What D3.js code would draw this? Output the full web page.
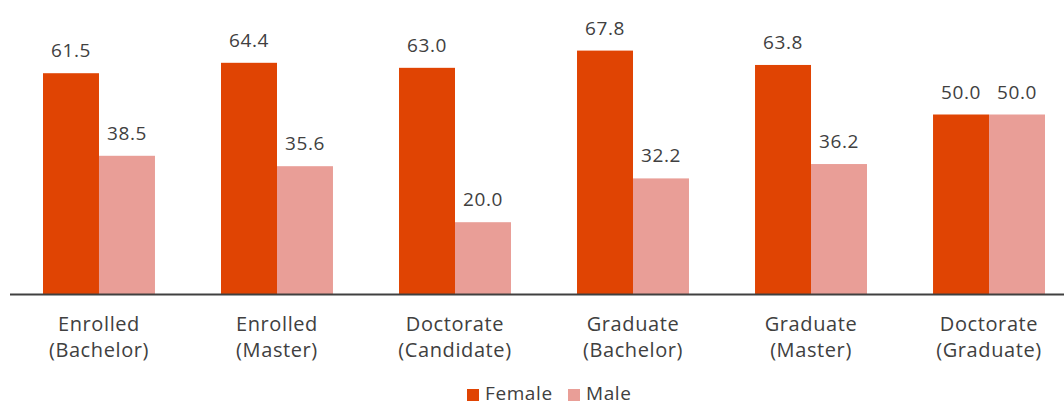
<!DOCTYPE html>
<html>
<head>
<meta charset="utf-8">
<script src="https://cdn.jsdelivr.net/npm/d3@7"></script>
<style>
  body { margin: 0; background: #fff; }
  text { font-family: "Open Sans", "Noto Sans", sans-serif; fill: #404040; }
</style>
</head>
<body>
<div id="chart"></div>
<script>
// data
const categories = ["Enrolled (Bachelor)", "Enrolled (Master)", "Doctorate (Candidate)",
                    "Graduate (Bachelor)", "Graduate (Master)", "Doctorate (Graduate)"];
const catLines = [["Enrolled", "(Bachelor)"], ["Enrolled", "(Master)"], ["Doctorate", "(Candidate)"],
                  ["Graduate", "(Bachelor)"], ["Graduate", "(Master)"], ["Doctorate", "(Graduate)"]];
const female = [61.5, 64.4, 63.0, 67.8, 63.8, 50.0];
const male = [38.5, 35.6, 20.0, 32.2, 36.2, 50.0];
const seriesNames = ["Female", "Male"];
const colors = ["#E04403", "#E99E97"];

const width = 1064, height = 405;
const baseY = 294;

const svg = d3.select("#chart")
  .append("svg")
    .attr("width", width)
    .attr("height", height);

// outer band per category
const x = d3.scaleBand()
  .domain(categories)
  .range([10, 1078])
  .paddingInner(0.371)
  .paddingOuter(0.1854);

const xs = d3.scaleBand()
  .domain(seriesNames)
  .range([0, x.bandwidth()]);

const y = d3.scaleLinear()
  .domain([0, 100])
  .range([baseY, baseY - 359]);

const rows = categories.map((c, i) => ({cat: c, vals: [female[i], male[i]]}));

const groups = svg.selectAll("g.grp")
  .data(rows)
  .join("g")
    .attr("class", "grp")
    .attr("transform", d => `translate(${x(d.cat)},0)`);

groups.selectAll("rect")
  .data(d => d.vals.map((v, j) => ({s: seriesNames[j], v: v, j: j})))
  .join("rect")
    .attr("x", d => xs(d.s))
    .attr("y", d => y(d.v))
    .attr("width", xs.bandwidth())
    .attr("height", d => baseY - y(d.v))
    .attr("fill", d => colors[d.j]);

groups.selectAll("text.val")
  .data(d => d.vals.map((v, j) => ({s: seriesNames[j], v: v})))
  .join("text")
    .attr("class", "val")
    .attr("x", d => xs(d.s) + xs.bandwidth() / 2)
    .attr("y", d => y(d.v) - 16)
    .attr("text-anchor", "middle")
    .style("font-size", "19px")
    .style("letter-spacing", "0.6px")
    .text(d => d.v.toFixed(1));

// baseline
svg.append("line")
  .attr("x1", 10).attr("x2", width)
  .attr("y1", baseY + 0.5).attr("y2", baseY + 0.5)
  .attr("stroke", "#404040")
  .attr("stroke-width", 2);

// category labels
categories.forEach((c, i) => {
  const t = svg.append("text")
    .attr("x", x(c) + x.bandwidth() / 2)
    .attr("text-anchor", "middle")
    .style("font-size", "20px")
    .style("letter-spacing", "0.6px");
  catLines[i].forEach((ln, k) => {
    t.append("tspan")
      .attr("x", x(c) + x.bandwidth() / 2)
      .attr("y", 331 + k * 26)
      .text(ln);
  });
});

// legend
const legend = svg.append("g");
const legendX = [467, 568];
seriesNames.forEach((s, j) => {
  legend.append("rect")
    .attr("x", legendX[j]).attr("y", 389)
    .attr("width", 12).attr("height", 12)
    .attr("fill", colors[j]);
  legend.append("text")
    .attr("x", legendX[j] + 18).attr("y", 400)
    .style("font-size", "19px")
    .style("letter-spacing", "0.6px")
    .text(s);
});
</script>
</body>
</html>
